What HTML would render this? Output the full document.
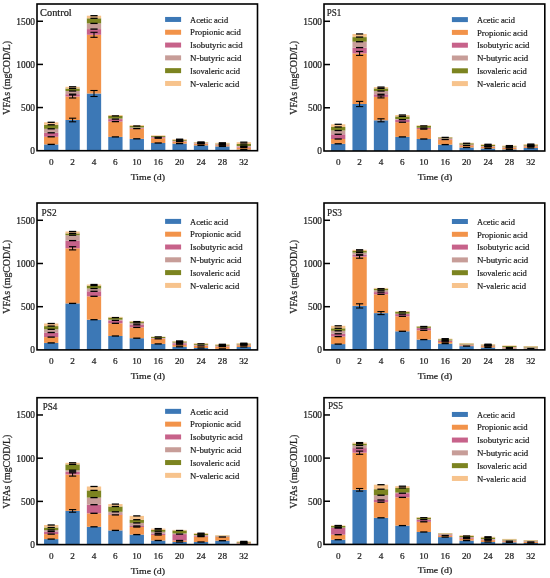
<!DOCTYPE html><html><head><meta charset="utf-8"><style>html,body{margin:0;padding:0;background:#fff;}svg{display:block;filter:blur(0.3px);}</style></head><body>
<svg width="550" height="578" viewBox="0 0 550 578">
<rect width="550" height="578" fill="#fff"/>
<g font-family='"Liberation Serif", serif'><rect x="44.05" y="144.4" width="14.3" height="6.3" fill="#3c78b6"/><rect x="44.05" y="136.8" width="14.3" height="7.6" fill="#f2934a"/><rect x="44.05" y="132.8" width="14.3" height="4" fill="#c7628a"/><rect x="44.05" y="128.8" width="14.3" height="4" fill="#c79d98"/><rect x="44.05" y="124.8" width="14.3" height="4" fill="#7c8420"/><rect x="44.05" y="122.3" width="14.3" height="2.5" fill="#f7c38c"/><rect x="65.45" y="120" width="14.3" height="30.7" fill="#3c78b6"/><rect x="65.45" y="96.5" width="14.3" height="23.5" fill="#f2934a"/><rect x="65.45" y="94.2" width="14.3" height="2.3" fill="#c7628a"/><rect x="65.45" y="91" width="14.3" height="3.2" fill="#c79d98"/><rect x="65.45" y="88.5" width="14.3" height="2.5" fill="#7c8420"/><rect x="65.45" y="86.8" width="14.3" height="1.7" fill="#f7c38c"/><rect x="86.85" y="93.5" width="14.3" height="57.2" fill="#3c78b6"/><rect x="86.85" y="34.8" width="14.3" height="58.7" fill="#f2934a"/><rect x="86.85" y="29.1" width="14.3" height="5.7" fill="#c7628a"/><rect x="86.85" y="23.4" width="14.3" height="5.7" fill="#c79d98"/><rect x="86.85" y="18.3" width="14.3" height="5.1" fill="#7c8420"/><rect x="86.85" y="15.7" width="14.3" height="2.6" fill="#f7c38c"/><rect x="108.25" y="136.9" width="14.3" height="13.8" fill="#3c78b6"/><rect x="108.25" y="121.6" width="14.3" height="15.3" fill="#f2934a"/><rect x="108.25" y="119.1" width="14.3" height="2.5" fill="#c7628a"/><rect x="108.25" y="118.6" width="14.3" height="0.5" fill="#c79d98"/><rect x="108.25" y="115.9" width="14.3" height="2.7" fill="#7c8420"/><rect x="108.25" y="115" width="14.3" height="0.9" fill="#f7c38c"/><rect x="129.65" y="138.8" width="14.3" height="11.9" fill="#3c78b6"/><rect x="129.65" y="128.6" width="14.3" height="10.2" fill="#f2934a"/><rect x="129.65" y="127.9" width="14.3" height="0.7" fill="#c7628a"/><rect x="129.65" y="127.5" width="14.3" height="0.4" fill="#c79d98"/><rect x="129.65" y="126" width="14.3" height="1.5" fill="#7c8420"/><rect x="129.65" y="125.2" width="14.3" height="0.8" fill="#f7c38c"/><rect x="151.05" y="143" width="14.3" height="7.7" fill="#3c78b6"/><rect x="151.05" y="138.2" width="14.3" height="4.8" fill="#f2934a"/><rect x="151.05" y="137.2" width="14.3" height="1" fill="#c7628a"/><rect x="151.05" y="136.9" width="14.3" height="0.3" fill="#c79d98"/><rect x="151.05" y="136" width="14.3" height="0.9" fill="#7c8420"/><rect x="151.05" y="135.4" width="14.3" height="0.6" fill="#f7c38c"/><rect x="172.45" y="143.6" width="14.3" height="7.1" fill="#3c78b6"/><rect x="172.45" y="141.6" width="14.3" height="2" fill="#f2934a"/><rect x="172.45" y="141.2" width="14.3" height="0.4" fill="#c7628a"/><rect x="172.45" y="140.8" width="14.3" height="0.4" fill="#c79d98"/><rect x="172.45" y="139.8" width="14.3" height="1" fill="#7c8420"/><rect x="172.45" y="139.2" width="14.3" height="0.6" fill="#f7c38c"/><rect x="193.85" y="145.4" width="14.3" height="5.3" fill="#3c78b6"/><rect x="193.85" y="143.8" width="14.3" height="1.6" fill="#f2934a"/><rect x="193.85" y="143.4" width="14.3" height="0.4" fill="#c7628a"/><rect x="193.85" y="143" width="14.3" height="0.4" fill="#c79d98"/><rect x="193.85" y="142.5" width="14.3" height="0.5" fill="#7c8420"/><rect x="193.85" y="142" width="14.3" height="0.5" fill="#f7c38c"/><rect x="215.25" y="146.4" width="14.3" height="4.3" fill="#3c78b6"/><rect x="215.25" y="145.2" width="14.3" height="1.2" fill="#f2934a"/><rect x="215.25" y="144.8" width="14.3" height="0.4" fill="#c7628a"/><rect x="215.25" y="144.2" width="14.3" height="0.6" fill="#c79d98"/><rect x="215.25" y="143.6" width="14.3" height="0.6" fill="#7c8420"/><rect x="215.25" y="142.8" width="14.3" height="0.8" fill="#f7c38c"/><rect x="236.65" y="149.6" width="14.3" height="1.1" fill="#3c78b6"/><rect x="236.65" y="147.6" width="14.3" height="2" fill="#f2934a"/><rect x="236.65" y="146.6" width="14.3" height="1" fill="#c7628a"/><rect x="236.65" y="146" width="14.3" height="0.6" fill="#c79d98"/><rect x="236.65" y="144" width="14.3" height="2" fill="#7c8420"/><rect x="236.65" y="142.2" width="14.3" height="1.8" fill="#f7c38c"/><rect x="47.6" y="143.75" width="7.2" height="1.3" fill="#000"/><rect x="47.6" y="136.15" width="7.2" height="1.3" fill="#000"/><rect x="47.6" y="132.15" width="7.2" height="1.3" fill="#000"/><rect x="47.6" y="128.15" width="7.2" height="1.3" fill="#000"/><rect x="47.6" y="124.15" width="7.2" height="1.3" fill="#000"/><rect x="47.6" y="121.65" width="7.2" height="1.3" fill="#000"/><rect x="69" y="117.65" width="7.2" height="1.1" fill="#000"/><rect x="69" y="121.25" width="7.2" height="1.1" fill="#000"/><rect x="72.1" y="118.2" width="1" height="3.6" fill="#000"/><rect x="69" y="94.45" width="7.2" height="1.1" fill="#000"/><rect x="69" y="97.45" width="7.2" height="1.1" fill="#000"/><rect x="72.1" y="95" width="1" height="3" fill="#000"/><rect x="69" y="93.55" width="7.2" height="1.3" fill="#000"/><rect x="69" y="90.35" width="7.2" height="1.3" fill="#000"/><rect x="69" y="87.85" width="7.2" height="1.3" fill="#000"/><rect x="69" y="86.15" width="7.2" height="1.3" fill="#000"/><rect x="90.4" y="89.95" width="7.2" height="1.1" fill="#000"/><rect x="90.4" y="95.95" width="7.2" height="1.1" fill="#000"/><rect x="93.5" y="90.5" width="1" height="6" fill="#000"/><rect x="90.4" y="31.75" width="7.2" height="1.1" fill="#000"/><rect x="90.4" y="36.75" width="7.2" height="1.1" fill="#000"/><rect x="93.5" y="32.3" width="1" height="5" fill="#000"/><rect x="90.4" y="28.45" width="7.2" height="1.3" fill="#000"/><rect x="90.4" y="22.75" width="7.2" height="1.3" fill="#000"/><rect x="90.4" y="17.65" width="7.2" height="1.3" fill="#000"/><rect x="90.4" y="15.05" width="7.2" height="1.3" fill="#000"/><rect x="111.8" y="136.25" width="7.2" height="1.3" fill="#000"/><rect x="111.8" y="120.95" width="7.2" height="1.3" fill="#000"/><rect x="111.8" y="118.45" width="7.2" height="1.3" fill="#000"/><rect x="111.8" y="115.25" width="7.2" height="1.3" fill="#000"/><rect x="133.2" y="138.15" width="7.2" height="1.3" fill="#000"/><rect x="133.2" y="127.95" width="7.2" height="1.3" fill="#000"/><rect x="133.2" y="125.35" width="7.2" height="1.3" fill="#000"/><rect x="154.6" y="142.35" width="7.2" height="1.3" fill="#000"/><rect x="154.6" y="137.55" width="7.2" height="1.3" fill="#000"/><rect x="154.6" y="136.55" width="7.2" height="1.3" fill="#000"/><rect x="176" y="142.95" width="7.2" height="1.3" fill="#000"/><rect x="176" y="140.95" width="7.2" height="1.3" fill="#000"/><rect x="176" y="140.55" width="7.2" height="1.3" fill="#000"/><rect x="176" y="140.15" width="7.2" height="1.3" fill="#000"/><rect x="176" y="139.15" width="7.2" height="1.3" fill="#000"/><rect x="176" y="138.55" width="7.2" height="1.3" fill="#000"/><rect x="197.4" y="144.75" width="7.2" height="1.3" fill="#000"/><rect x="197.4" y="143.15" width="7.2" height="1.3" fill="#000"/><rect x="197.4" y="142.75" width="7.2" height="1.3" fill="#000"/><rect x="197.4" y="142.35" width="7.2" height="1.3" fill="#000"/><rect x="197.4" y="141.85" width="7.2" height="1.3" fill="#000"/><rect x="197.4" y="141.35" width="7.2" height="1.3" fill="#000"/><rect x="218.8" y="145.75" width="7.2" height="1.3" fill="#000"/><rect x="218.8" y="144.55" width="7.2" height="1.3" fill="#000"/><rect x="218.8" y="144.15" width="7.2" height="1.3" fill="#000"/><rect x="218.8" y="143.55" width="7.2" height="1.3" fill="#000"/><rect x="218.8" y="142.95" width="7.2" height="1.3" fill="#000"/><rect x="218.8" y="142.15" width="7.2" height="1.3" fill="#000"/><rect x="240.2" y="148.95" width="7.2" height="1.3" fill="#000"/><rect x="240.2" y="146.95" width="7.2" height="1.3" fill="#000"/><rect x="240.2" y="145.95" width="7.2" height="1.3" fill="#000"/><rect x="240.2" y="145.35" width="7.2" height="1.3" fill="#000"/><rect x="240.2" y="143.35" width="7.2" height="1.3" fill="#000"/><rect x="240.2" y="141.55" width="7.2" height="1.3" fill="#000"/><rect x="37" y="4" width="220.5" height="146.7" fill="none" stroke="#000" stroke-width="1.6"/><rect x="37" y="106.8" width="6" height="1.5" fill="#000"/><text x="35" y="110.95" text-anchor="end" font-size="9.4" fill="#222" stroke="#222" stroke-width="0.22">500</text><rect x="37" y="63.66" width="6" height="1.5" fill="#000"/><text x="35" y="67.81" text-anchor="end" font-size="9.4" fill="#222" stroke="#222" stroke-width="0.22">1000</text><rect x="37" y="20.51" width="6" height="1.5" fill="#000"/><text x="35" y="24.66" text-anchor="end" font-size="9.4" fill="#222" stroke="#222" stroke-width="0.22">1500</text><text x="35" y="154.1" text-anchor="end" font-size="9.4" fill="#222" stroke="#222" stroke-width="0.22">0</text><text x="51.2" y="164.9" text-anchor="middle" font-size="9.2" fill="#222" stroke="#222" stroke-width="0.22">0</text><text x="72.6" y="164.9" text-anchor="middle" font-size="9.2" fill="#222" stroke="#222" stroke-width="0.22">2</text><text x="94" y="164.9" text-anchor="middle" font-size="9.2" fill="#222" stroke="#222" stroke-width="0.22">4</text><text x="115.4" y="164.9" text-anchor="middle" font-size="9.2" fill="#222" stroke="#222" stroke-width="0.22">6</text><text x="136.8" y="164.9" text-anchor="middle" font-size="9.2" fill="#222" stroke="#222" stroke-width="0.22">10</text><text x="158.2" y="164.9" text-anchor="middle" font-size="9.2" fill="#222" stroke="#222" stroke-width="0.22">16</text><text x="179.6" y="164.9" text-anchor="middle" font-size="9.2" fill="#222" stroke="#222" stroke-width="0.22">20</text><text x="201" y="164.9" text-anchor="middle" font-size="9.2" fill="#222" stroke="#222" stroke-width="0.22">24</text><text x="222.4" y="164.9" text-anchor="middle" font-size="9.2" fill="#222" stroke="#222" stroke-width="0.22">28</text><text x="243.8" y="164.9" text-anchor="middle" font-size="9.2" fill="#222" stroke="#222" stroke-width="0.22">32</text><text x="147.85" y="179.7" text-anchor="middle" font-size="9.2" textLength="34.4" lengthAdjust="spacingAndGlyphs" fill="#222" stroke="#222" stroke-width="0.22">Time (d)</text><text transform="translate(10.1,114.7) rotate(-90)" x="0" y="0" font-size="9.6" textLength="73.7" lengthAdjust="spacingAndGlyphs" fill="#222" stroke="#222" stroke-width="0.22">VFAs (mgCOD/L)</text><text x="40.1" y="15.6" font-size="9.5" textLength="31.6" lengthAdjust="spacingAndGlyphs" fill="#222" stroke="#222" stroke-width="0.22">Control</text><rect x="165.1" y="16.95" width="16" height="5" fill="#3c78b6"/><text x="190.1" y="22.65" font-size="9" textLength="38" lengthAdjust="spacingAndGlyphs" fill="#222" stroke="#222" stroke-width="0.22">Acetic acid</text><rect x="165.1" y="29.75" width="16" height="5" fill="#f2934a"/><text x="190.1" y="35.45" font-size="9" textLength="50.7" lengthAdjust="spacingAndGlyphs" fill="#222" stroke="#222" stroke-width="0.22">Propionic acid</text><rect x="165.1" y="42.55" width="16" height="5" fill="#c7628a"/><text x="190.1" y="48.25" font-size="9" textLength="52.6" lengthAdjust="spacingAndGlyphs" fill="#222" stroke="#222" stroke-width="0.22">Isobutyric acid</text><rect x="165.1" y="55.35" width="16" height="5" fill="#c79d98"/><text x="190.1" y="61.05" font-size="9" textLength="51.4" lengthAdjust="spacingAndGlyphs" fill="#222" stroke="#222" stroke-width="0.22">N-butyric acid</text><rect x="165.1" y="68.15" width="16" height="5" fill="#7c8420"/><text x="190.1" y="73.85" font-size="9" textLength="50" lengthAdjust="spacingAndGlyphs" fill="#222" stroke="#222" stroke-width="0.22">Isovaleric acid</text><rect x="165.1" y="80.95" width="16" height="5" fill="#f7c38c"/><text x="190.1" y="86.65" font-size="9" textLength="49.2" lengthAdjust="spacingAndGlyphs" fill="#222" stroke="#222" stroke-width="0.22">N-valeric acid</text></g>
<g font-family='"Liberation Serif", serif'><rect x="331.05" y="143.8" width="14.3" height="7.2" fill="#3c78b6"/><rect x="331.05" y="139" width="14.3" height="4.8" fill="#f2934a"/><rect x="331.05" y="134.3" width="14.3" height="4.7" fill="#c7628a"/><rect x="331.05" y="130.5" width="14.3" height="3.8" fill="#c79d98"/><rect x="331.05" y="127" width="14.3" height="3.5" fill="#7c8420"/><rect x="331.05" y="124.3" width="14.3" height="2.7" fill="#f7c38c"/><rect x="352.45" y="104" width="14.3" height="47" fill="#3c78b6"/><rect x="352.45" y="53.4" width="14.3" height="50.6" fill="#f2934a"/><rect x="352.45" y="47.6" width="14.3" height="5.8" fill="#c7628a"/><rect x="352.45" y="41.7" width="14.3" height="5.9" fill="#c79d98"/><rect x="352.45" y="37.1" width="14.3" height="4.6" fill="#7c8420"/><rect x="352.45" y="33.95" width="14.3" height="3.15" fill="#f7c38c"/><rect x="373.85" y="120.3" width="14.3" height="30.7" fill="#3c78b6"/><rect x="373.85" y="96.9" width="14.3" height="23.4" fill="#f2934a"/><rect x="373.85" y="94.3" width="14.3" height="2.6" fill="#c7628a"/><rect x="373.85" y="91" width="14.3" height="3.3" fill="#c79d98"/><rect x="373.85" y="88.4" width="14.3" height="2.6" fill="#7c8420"/><rect x="373.85" y="87.1" width="14.3" height="1.3" fill="#f7c38c"/><rect x="395.25" y="136.9" width="14.3" height="14.1" fill="#3c78b6"/><rect x="395.25" y="122.2" width="14.3" height="14.7" fill="#f2934a"/><rect x="395.25" y="119.6" width="14.3" height="2.6" fill="#c7628a"/><rect x="395.25" y="119" width="14.3" height="0.6" fill="#c79d98"/><rect x="395.25" y="116.4" width="14.3" height="2.6" fill="#7c8420"/><rect x="395.25" y="115" width="14.3" height="1.4" fill="#f7c38c"/><rect x="416.65" y="139" width="14.3" height="12" fill="#3c78b6"/><rect x="416.65" y="129.1" width="14.3" height="9.9" fill="#f2934a"/><rect x="416.65" y="128" width="14.3" height="1.1" fill="#c7628a"/><rect x="416.65" y="127.8" width="14.3" height="0.2" fill="#c79d98"/><rect x="416.65" y="125.9" width="14.3" height="1.9" fill="#7c8420"/><rect x="416.65" y="125.3" width="14.3" height="0.6" fill="#f7c38c"/><rect x="438.05" y="144.6" width="14.3" height="6.4" fill="#3c78b6"/><rect x="438.05" y="139.5" width="14.3" height="5.1" fill="#f2934a"/><rect x="438.05" y="138.6" width="14.3" height="0.9" fill="#c7628a"/><rect x="438.05" y="138.4" width="14.3" height="0.2" fill="#c79d98"/><rect x="438.05" y="137.4" width="14.3" height="1" fill="#7c8420"/><rect x="438.05" y="137" width="14.3" height="0.4" fill="#f7c38c"/><rect x="459.45" y="147.5" width="14.3" height="3.5" fill="#3c78b6"/><rect x="459.45" y="145.4" width="14.3" height="2.1" fill="#f2934a"/><rect x="459.45" y="144.8" width="14.3" height="0.6" fill="#c7628a"/><rect x="459.45" y="144.6" width="14.3" height="0.2" fill="#c79d98"/><rect x="459.45" y="143.3" width="14.3" height="1.3" fill="#7c8420"/><rect x="459.45" y="142.8" width="14.3" height="0.5" fill="#f7c38c"/><rect x="480.85" y="148.5" width="14.3" height="2.5" fill="#3c78b6"/><rect x="480.85" y="146.9" width="14.3" height="1.6" fill="#f2934a"/><rect x="480.85" y="146.4" width="14.3" height="0.5" fill="#c7628a"/><rect x="480.85" y="146" width="14.3" height="0.4" fill="#c79d98"/><rect x="480.85" y="145" width="14.3" height="1" fill="#7c8420"/><rect x="480.85" y="144.3" width="14.3" height="0.7" fill="#f7c38c"/><rect x="502.25" y="149.4" width="14.3" height="1.6" fill="#3c78b6"/><rect x="502.25" y="147.9" width="14.3" height="1.5" fill="#f2934a"/><rect x="502.25" y="147.5" width="14.3" height="0.4" fill="#c7628a"/><rect x="502.25" y="147.1" width="14.3" height="0.4" fill="#c79d98"/><rect x="502.25" y="146.3" width="14.3" height="0.8" fill="#7c8420"/><rect x="502.25" y="145.6" width="14.3" height="0.7" fill="#f7c38c"/><rect x="523.65" y="147.9" width="14.3" height="3.1" fill="#3c78b6"/><rect x="523.65" y="146.4" width="14.3" height="1.5" fill="#f2934a"/><rect x="523.65" y="146" width="14.3" height="0.4" fill="#c7628a"/><rect x="523.65" y="145.6" width="14.3" height="0.4" fill="#c79d98"/><rect x="523.65" y="144.8" width="14.3" height="0.8" fill="#7c8420"/><rect x="523.65" y="144.1" width="14.3" height="0.7" fill="#f7c38c"/><rect x="334.6" y="143.15" width="7.2" height="1.3" fill="#000"/><rect x="334.6" y="138.35" width="7.2" height="1.3" fill="#000"/><rect x="334.6" y="133.65" width="7.2" height="1.3" fill="#000"/><rect x="334.6" y="129.85" width="7.2" height="1.3" fill="#000"/><rect x="334.6" y="126.35" width="7.2" height="1.3" fill="#000"/><rect x="334.6" y="123.65" width="7.2" height="1.3" fill="#000"/><rect x="356" y="100.85" width="7.2" height="1.1" fill="#000"/><rect x="356" y="106.05" width="7.2" height="1.1" fill="#000"/><rect x="359.1" y="101.4" width="1" height="5.2" fill="#000"/><rect x="356" y="50.85" width="7.2" height="1.1" fill="#000"/><rect x="356" y="54.85" width="7.2" height="1.1" fill="#000"/><rect x="359.1" y="51.4" width="1" height="4" fill="#000"/><rect x="356" y="46.95" width="7.2" height="1.3" fill="#000"/><rect x="356" y="41.05" width="7.2" height="1.3" fill="#000"/><rect x="356" y="36.45" width="7.2" height="1.3" fill="#000"/><rect x="356" y="33.3" width="7.2" height="1.3" fill="#000"/><rect x="377.4" y="118.25" width="7.2" height="1.1" fill="#000"/><rect x="377.4" y="121.25" width="7.2" height="1.1" fill="#000"/><rect x="380.5" y="118.8" width="1" height="3" fill="#000"/><rect x="377.4" y="95.35" width="7.2" height="1.1" fill="#000"/><rect x="377.4" y="97.35" width="7.2" height="1.1" fill="#000"/><rect x="380.5" y="95.9" width="1" height="2" fill="#000"/><rect x="377.4" y="93.65" width="7.2" height="1.3" fill="#000"/><rect x="377.4" y="90.35" width="7.2" height="1.3" fill="#000"/><rect x="377.4" y="87.75" width="7.2" height="1.3" fill="#000"/><rect x="377.4" y="86.45" width="7.2" height="1.3" fill="#000"/><rect x="398.8" y="136.25" width="7.2" height="1.3" fill="#000"/><rect x="398.8" y="121.55" width="7.2" height="1.3" fill="#000"/><rect x="398.8" y="118.95" width="7.2" height="1.3" fill="#000"/><rect x="398.8" y="115.75" width="7.2" height="1.3" fill="#000"/><rect x="398.8" y="114.35" width="7.2" height="1.3" fill="#000"/><rect x="420.2" y="138.35" width="7.2" height="1.3" fill="#000"/><rect x="420.2" y="128.45" width="7.2" height="1.3" fill="#000"/><rect x="420.2" y="127.35" width="7.2" height="1.3" fill="#000"/><rect x="420.2" y="125.25" width="7.2" height="1.3" fill="#000"/><rect x="441.6" y="143.95" width="7.2" height="1.3" fill="#000"/><rect x="441.6" y="138.85" width="7.2" height="1.3" fill="#000"/><rect x="441.6" y="136.75" width="7.2" height="1.3" fill="#000"/><rect x="463" y="146.85" width="7.2" height="1.3" fill="#000"/><rect x="463" y="144.75" width="7.2" height="1.3" fill="#000"/><rect x="463" y="142.65" width="7.2" height="1.3" fill="#000"/><rect x="484.4" y="147.85" width="7.2" height="1.3" fill="#000"/><rect x="484.4" y="146.25" width="7.2" height="1.3" fill="#000"/><rect x="484.4" y="145.75" width="7.2" height="1.3" fill="#000"/><rect x="484.4" y="145.35" width="7.2" height="1.3" fill="#000"/><rect x="484.4" y="144.35" width="7.2" height="1.3" fill="#000"/><rect x="484.4" y="143.65" width="7.2" height="1.3" fill="#000"/><rect x="505.8" y="148.75" width="7.2" height="1.3" fill="#000"/><rect x="505.8" y="147.25" width="7.2" height="1.3" fill="#000"/><rect x="505.8" y="146.85" width="7.2" height="1.3" fill="#000"/><rect x="505.8" y="146.45" width="7.2" height="1.3" fill="#000"/><rect x="505.8" y="145.65" width="7.2" height="1.3" fill="#000"/><rect x="505.8" y="144.95" width="7.2" height="1.3" fill="#000"/><rect x="527.2" y="147.25" width="7.2" height="1.3" fill="#000"/><rect x="527.2" y="145.75" width="7.2" height="1.3" fill="#000"/><rect x="527.2" y="145.35" width="7.2" height="1.3" fill="#000"/><rect x="527.2" y="144.95" width="7.2" height="1.3" fill="#000"/><rect x="527.2" y="144.15" width="7.2" height="1.3" fill="#000"/><rect x="527.2" y="143.45" width="7.2" height="1.3" fill="#000"/><rect x="324" y="4" width="220.8" height="147" fill="none" stroke="#000" stroke-width="1.6"/><rect x="324" y="107.01" width="6" height="1.5" fill="#000"/><text x="322" y="111.16" text-anchor="end" font-size="9.4" fill="#222" stroke="#222" stroke-width="0.22">500</text><rect x="324" y="63.78" width="6" height="1.5" fill="#000"/><text x="322" y="67.93" text-anchor="end" font-size="9.4" fill="#222" stroke="#222" stroke-width="0.22">1000</text><rect x="324" y="20.54" width="6" height="1.5" fill="#000"/><text x="322" y="24.69" text-anchor="end" font-size="9.4" fill="#222" stroke="#222" stroke-width="0.22">1500</text><text x="322" y="154.4" text-anchor="end" font-size="9.4" fill="#222" stroke="#222" stroke-width="0.22">0</text><text x="338.2" y="165.2" text-anchor="middle" font-size="9.2" fill="#222" stroke="#222" stroke-width="0.22">0</text><text x="359.6" y="165.2" text-anchor="middle" font-size="9.2" fill="#222" stroke="#222" stroke-width="0.22">2</text><text x="381" y="165.2" text-anchor="middle" font-size="9.2" fill="#222" stroke="#222" stroke-width="0.22">4</text><text x="402.4" y="165.2" text-anchor="middle" font-size="9.2" fill="#222" stroke="#222" stroke-width="0.22">6</text><text x="423.8" y="165.2" text-anchor="middle" font-size="9.2" fill="#222" stroke="#222" stroke-width="0.22">10</text><text x="445.2" y="165.2" text-anchor="middle" font-size="9.2" fill="#222" stroke="#222" stroke-width="0.22">16</text><text x="466.6" y="165.2" text-anchor="middle" font-size="9.2" fill="#222" stroke="#222" stroke-width="0.22">20</text><text x="488" y="165.2" text-anchor="middle" font-size="9.2" fill="#222" stroke="#222" stroke-width="0.22">24</text><text x="509.4" y="165.2" text-anchor="middle" font-size="9.2" fill="#222" stroke="#222" stroke-width="0.22">28</text><text x="530.8" y="165.2" text-anchor="middle" font-size="9.2" fill="#222" stroke="#222" stroke-width="0.22">32</text><text x="435" y="180" text-anchor="middle" font-size="9.2" textLength="34.4" lengthAdjust="spacingAndGlyphs" fill="#222" stroke="#222" stroke-width="0.22">Time (d)</text><text transform="translate(296.7,114.7) rotate(-90)" x="0" y="0" font-size="9.6" textLength="73.7" lengthAdjust="spacingAndGlyphs" fill="#222" stroke="#222" stroke-width="0.22">VFAs (mgCOD/L)</text><text x="326.8" y="16.1" font-size="9.5" textLength="14.5" lengthAdjust="spacingAndGlyphs" fill="#222" stroke="#222" stroke-width="0.22">PS1</text><rect x="451.9" y="17.1" width="16" height="5" fill="#3c78b6"/><text x="476.9" y="22.8" font-size="9" textLength="38" lengthAdjust="spacingAndGlyphs" fill="#222" stroke="#222" stroke-width="0.22">Acetic acid</text><rect x="451.9" y="29.9" width="16" height="5" fill="#f2934a"/><text x="476.9" y="35.6" font-size="9" textLength="50.7" lengthAdjust="spacingAndGlyphs" fill="#222" stroke="#222" stroke-width="0.22">Propionic acid</text><rect x="451.9" y="42.7" width="16" height="5" fill="#c7628a"/><text x="476.9" y="48.4" font-size="9" textLength="52.6" lengthAdjust="spacingAndGlyphs" fill="#222" stroke="#222" stroke-width="0.22">Isobutyric acid</text><rect x="451.9" y="55.5" width="16" height="5" fill="#c79d98"/><text x="476.9" y="61.2" font-size="9" textLength="51.4" lengthAdjust="spacingAndGlyphs" fill="#222" stroke="#222" stroke-width="0.22">N-butyric acid</text><rect x="451.9" y="68.3" width="16" height="5" fill="#7c8420"/><text x="476.9" y="74" font-size="9" textLength="50" lengthAdjust="spacingAndGlyphs" fill="#222" stroke="#222" stroke-width="0.22">Isovaleric acid</text><rect x="451.9" y="81.1" width="16" height="5" fill="#f7c38c"/><text x="476.9" y="86.8" font-size="9" textLength="49.2" lengthAdjust="spacingAndGlyphs" fill="#222" stroke="#222" stroke-width="0.22">N-valeric acid</text></g>
<g font-family='"Liberation Serif", serif'><rect x="44.05" y="342.9" width="14.3" height="7" fill="#3c78b6"/><rect x="44.05" y="337.1" width="14.3" height="5.8" fill="#f2934a"/><rect x="44.05" y="332.5" width="14.3" height="4.6" fill="#c7628a"/><rect x="44.05" y="329.3" width="14.3" height="3.2" fill="#c79d98"/><rect x="44.05" y="326.1" width="14.3" height="3.2" fill="#7c8420"/><rect x="44.05" y="323.5" width="14.3" height="2.6" fill="#f7c38c"/><rect x="65.45" y="303.4" width="14.3" height="46.5" fill="#3c78b6"/><rect x="65.45" y="248.3" width="14.3" height="55.1" fill="#f2934a"/><rect x="65.45" y="240.6" width="14.3" height="7.7" fill="#c7628a"/><rect x="65.45" y="235.2" width="14.3" height="5.4" fill="#c79d98"/><rect x="65.45" y="233.4" width="14.3" height="1.8" fill="#7c8420"/><rect x="65.45" y="231.5" width="14.3" height="1.9" fill="#f7c38c"/><rect x="86.85" y="319.7" width="14.3" height="30.2" fill="#3c78b6"/><rect x="86.85" y="296.3" width="14.3" height="23.4" fill="#f2934a"/><rect x="86.85" y="291.3" width="14.3" height="5" fill="#c7628a"/><rect x="86.85" y="288.5" width="14.3" height="2.8" fill="#c79d98"/><rect x="86.85" y="285.6" width="14.3" height="2.9" fill="#7c8420"/><rect x="86.85" y="284.5" width="14.3" height="1.1" fill="#f7c38c"/><rect x="108.25" y="336" width="14.3" height="13.9" fill="#3c78b6"/><rect x="108.25" y="323.3" width="14.3" height="12.7" fill="#f2934a"/><rect x="108.25" y="320.4" width="14.3" height="2.9" fill="#c7628a"/><rect x="108.25" y="319.7" width="14.3" height="0.7" fill="#c79d98"/><rect x="108.25" y="317.6" width="14.3" height="2.1" fill="#7c8420"/><rect x="108.25" y="316.9" width="14.3" height="0.7" fill="#f7c38c"/><rect x="129.65" y="338.2" width="14.3" height="11.7" fill="#3c78b6"/><rect x="129.65" y="327.4" width="14.3" height="10.8" fill="#f2934a"/><rect x="129.65" y="324.8" width="14.3" height="2.6" fill="#c7628a"/><rect x="129.65" y="322.9" width="14.3" height="1.9" fill="#c79d98"/><rect x="129.65" y="321.6" width="14.3" height="1.3" fill="#7c8420"/><rect x="129.65" y="321" width="14.3" height="0.6" fill="#f7c38c"/><rect x="151.05" y="343.9" width="14.3" height="6" fill="#3c78b6"/><rect x="151.05" y="338.8" width="14.3" height="5.1" fill="#f2934a"/><rect x="151.05" y="338.4" width="14.3" height="0.4" fill="#c7628a"/><rect x="151.05" y="338" width="14.3" height="0.4" fill="#c79d98"/><rect x="151.05" y="336.9" width="14.3" height="1.1" fill="#7c8420"/><rect x="151.05" y="336.7" width="14.3" height="0.2" fill="#f7c38c"/><rect x="172.45" y="346.8" width="14.3" height="3.1" fill="#3c78b6"/><rect x="172.45" y="344.8" width="14.3" height="2" fill="#f2934a"/><rect x="172.45" y="343.3" width="14.3" height="1.5" fill="#c7628a"/><rect x="172.45" y="342.5" width="14.3" height="0.8" fill="#c79d98"/><rect x="172.45" y="341.5" width="14.3" height="1" fill="#7c8420"/><rect x="172.45" y="341" width="14.3" height="0.5" fill="#f7c38c"/><rect x="193.85" y="348" width="14.3" height="1.9" fill="#3c78b6"/><rect x="193.85" y="345.9" width="14.3" height="2.1" fill="#f2934a"/><rect x="193.85" y="345.4" width="14.3" height="0.5" fill="#c7628a"/><rect x="193.85" y="344.8" width="14.3" height="0.6" fill="#c79d98"/><rect x="193.85" y="343.8" width="14.3" height="1" fill="#7c8420"/><rect x="193.85" y="343.2" width="14.3" height="0.6" fill="#f7c38c"/><rect x="215.25" y="348.9" width="14.3" height="1" fill="#3c78b6"/><rect x="215.25" y="346.6" width="14.3" height="2.3" fill="#f2934a"/><rect x="215.25" y="346.1" width="14.3" height="0.5" fill="#c7628a"/><rect x="215.25" y="345.6" width="14.3" height="0.5" fill="#c79d98"/><rect x="215.25" y="344.8" width="14.3" height="0.8" fill="#7c8420"/><rect x="215.25" y="344.3" width="14.3" height="0.5" fill="#f7c38c"/><rect x="236.65" y="347" width="14.3" height="2.9" fill="#3c78b6"/><rect x="236.65" y="345.2" width="14.3" height="1.8" fill="#f2934a"/><rect x="236.65" y="344.8" width="14.3" height="0.4" fill="#c7628a"/><rect x="236.65" y="344.4" width="14.3" height="0.4" fill="#c79d98"/><rect x="236.65" y="343.7" width="14.3" height="0.7" fill="#7c8420"/><rect x="236.65" y="343.2" width="14.3" height="0.5" fill="#f7c38c"/><rect x="47.6" y="342.25" width="7.2" height="1.3" fill="#000"/><rect x="47.6" y="336.45" width="7.2" height="1.3" fill="#000"/><rect x="47.6" y="331.85" width="7.2" height="1.3" fill="#000"/><rect x="47.6" y="328.65" width="7.2" height="1.3" fill="#000"/><rect x="47.6" y="325.45" width="7.2" height="1.3" fill="#000"/><rect x="47.6" y="322.85" width="7.2" height="1.3" fill="#000"/><rect x="69" y="302.75" width="7.2" height="1.3" fill="#000"/><rect x="69" y="246.15" width="7.2" height="1.1" fill="#000"/><rect x="69" y="249.35" width="7.2" height="1.1" fill="#000"/><rect x="72.1" y="246.7" width="1" height="3.2" fill="#000"/><rect x="69" y="239.95" width="7.2" height="1.3" fill="#000"/><rect x="69" y="234.55" width="7.2" height="1.3" fill="#000"/><rect x="69" y="232.75" width="7.2" height="1.3" fill="#000"/><rect x="69" y="230.85" width="7.2" height="1.3" fill="#000"/><rect x="90.4" y="319.05" width="7.2" height="1.3" fill="#000"/><rect x="90.4" y="295.65" width="7.2" height="1.3" fill="#000"/><rect x="90.4" y="290.65" width="7.2" height="1.3" fill="#000"/><rect x="90.4" y="287.85" width="7.2" height="1.3" fill="#000"/><rect x="90.4" y="284.95" width="7.2" height="1.3" fill="#000"/><rect x="90.4" y="283.85" width="7.2" height="1.3" fill="#000"/><rect x="111.8" y="335.35" width="7.2" height="1.3" fill="#000"/><rect x="111.8" y="322.65" width="7.2" height="1.3" fill="#000"/><rect x="111.8" y="319.75" width="7.2" height="1.3" fill="#000"/><rect x="111.8" y="316.95" width="7.2" height="1.3" fill="#000"/><rect x="133.2" y="337.55" width="7.2" height="1.3" fill="#000"/><rect x="133.2" y="326.75" width="7.2" height="1.3" fill="#000"/><rect x="133.2" y="324.15" width="7.2" height="1.3" fill="#000"/><rect x="133.2" y="322.25" width="7.2" height="1.3" fill="#000"/><rect x="133.2" y="320.95" width="7.2" height="1.3" fill="#000"/><rect x="154.6" y="343.25" width="7.2" height="1.3" fill="#000"/><rect x="154.6" y="338.15" width="7.2" height="1.3" fill="#000"/><rect x="154.6" y="336.25" width="7.2" height="1.3" fill="#000"/><rect x="176" y="346.15" width="7.2" height="1.3" fill="#000"/><rect x="176" y="344.15" width="7.2" height="1.3" fill="#000"/><rect x="176" y="342.65" width="7.2" height="1.3" fill="#000"/><rect x="176" y="341.85" width="7.2" height="1.3" fill="#000"/><rect x="176" y="340.85" width="7.2" height="1.3" fill="#000"/><rect x="176" y="340.35" width="7.2" height="1.3" fill="#000"/><rect x="197.4" y="347.35" width="7.2" height="1.3" fill="#000"/><rect x="197.4" y="345.25" width="7.2" height="1.3" fill="#000"/><rect x="197.4" y="343.15" width="7.2" height="1.3" fill="#000"/><rect x="218.8" y="348.25" width="7.2" height="1.3" fill="#000"/><rect x="218.8" y="345.95" width="7.2" height="1.3" fill="#000"/><rect x="218.8" y="345.45" width="7.2" height="1.3" fill="#000"/><rect x="218.8" y="344.95" width="7.2" height="1.3" fill="#000"/><rect x="218.8" y="344.15" width="7.2" height="1.3" fill="#000"/><rect x="218.8" y="343.65" width="7.2" height="1.3" fill="#000"/><rect x="240.2" y="346.35" width="7.2" height="1.3" fill="#000"/><rect x="240.2" y="344.55" width="7.2" height="1.3" fill="#000"/><rect x="240.2" y="344.15" width="7.2" height="1.3" fill="#000"/><rect x="240.2" y="343.75" width="7.2" height="1.3" fill="#000"/><rect x="240.2" y="343.05" width="7.2" height="1.3" fill="#000"/><rect x="240.2" y="342.55" width="7.2" height="1.3" fill="#000"/><rect x="37" y="203" width="220.5" height="146.9" fill="none" stroke="#000" stroke-width="1.6"/><rect x="37" y="305.94" width="6" height="1.5" fill="#000"/><text x="35" y="310.09" text-anchor="end" font-size="9.4" fill="#222" stroke="#222" stroke-width="0.22">500</text><rect x="37" y="262.74" width="6" height="1.5" fill="#000"/><text x="35" y="266.89" text-anchor="end" font-size="9.4" fill="#222" stroke="#222" stroke-width="0.22">1000</text><rect x="37" y="219.53" width="6" height="1.5" fill="#000"/><text x="35" y="223.68" text-anchor="end" font-size="9.4" fill="#222" stroke="#222" stroke-width="0.22">1500</text><text x="35" y="353.3" text-anchor="end" font-size="9.4" fill="#222" stroke="#222" stroke-width="0.22">0</text><text x="51.2" y="364.1" text-anchor="middle" font-size="9.2" fill="#222" stroke="#222" stroke-width="0.22">0</text><text x="72.6" y="364.1" text-anchor="middle" font-size="9.2" fill="#222" stroke="#222" stroke-width="0.22">2</text><text x="94" y="364.1" text-anchor="middle" font-size="9.2" fill="#222" stroke="#222" stroke-width="0.22">4</text><text x="115.4" y="364.1" text-anchor="middle" font-size="9.2" fill="#222" stroke="#222" stroke-width="0.22">6</text><text x="136.8" y="364.1" text-anchor="middle" font-size="9.2" fill="#222" stroke="#222" stroke-width="0.22">10</text><text x="158.2" y="364.1" text-anchor="middle" font-size="9.2" fill="#222" stroke="#222" stroke-width="0.22">16</text><text x="179.6" y="364.1" text-anchor="middle" font-size="9.2" fill="#222" stroke="#222" stroke-width="0.22">20</text><text x="201" y="364.1" text-anchor="middle" font-size="9.2" fill="#222" stroke="#222" stroke-width="0.22">24</text><text x="222.4" y="364.1" text-anchor="middle" font-size="9.2" fill="#222" stroke="#222" stroke-width="0.22">28</text><text x="243.8" y="364.1" text-anchor="middle" font-size="9.2" fill="#222" stroke="#222" stroke-width="0.22">32</text><text x="147.85" y="378.9" text-anchor="middle" font-size="9.2" textLength="34.4" lengthAdjust="spacingAndGlyphs" fill="#222" stroke="#222" stroke-width="0.22">Time (d)</text><text transform="translate(10.1,313.7) rotate(-90)" x="0" y="0" font-size="9.6" textLength="73.7" lengthAdjust="spacingAndGlyphs" fill="#222" stroke="#222" stroke-width="0.22">VFAs (mgCOD/L)</text><text x="41.6" y="216.3" font-size="9.5" textLength="15" lengthAdjust="spacingAndGlyphs" fill="#222" stroke="#222" stroke-width="0.22">PS2</text><rect x="165.1" y="218.9" width="16" height="5" fill="#3c78b6"/><text x="190.1" y="224.6" font-size="9" textLength="38" lengthAdjust="spacingAndGlyphs" fill="#222" stroke="#222" stroke-width="0.22">Acetic acid</text><rect x="165.1" y="231.7" width="16" height="5" fill="#f2934a"/><text x="190.1" y="237.4" font-size="9" textLength="50.7" lengthAdjust="spacingAndGlyphs" fill="#222" stroke="#222" stroke-width="0.22">Propionic acid</text><rect x="165.1" y="244.5" width="16" height="5" fill="#c7628a"/><text x="190.1" y="250.2" font-size="9" textLength="52.6" lengthAdjust="spacingAndGlyphs" fill="#222" stroke="#222" stroke-width="0.22">Isobutyric acid</text><rect x="165.1" y="257.3" width="16" height="5" fill="#c79d98"/><text x="190.1" y="263" font-size="9" textLength="51.4" lengthAdjust="spacingAndGlyphs" fill="#222" stroke="#222" stroke-width="0.22">N-butyric acid</text><rect x="165.1" y="270.1" width="16" height="5" fill="#7c8420"/><text x="190.1" y="275.8" font-size="9" textLength="50" lengthAdjust="spacingAndGlyphs" fill="#222" stroke="#222" stroke-width="0.22">Isovaleric acid</text><rect x="165.1" y="282.9" width="16" height="5" fill="#f7c38c"/><text x="190.1" y="288.6" font-size="9" textLength="49.2" lengthAdjust="spacingAndGlyphs" fill="#222" stroke="#222" stroke-width="0.22">N-valeric acid</text></g>
<g font-family='"Liberation Serif", serif'><rect x="331.05" y="344.1" width="14.3" height="5.8" fill="#3c78b6"/><rect x="331.05" y="336.6" width="14.3" height="7.5" fill="#f2934a"/><rect x="331.05" y="333.8" width="14.3" height="2.8" fill="#c7628a"/><rect x="331.05" y="330.8" width="14.3" height="3" fill="#c79d98"/><rect x="331.05" y="328.3" width="14.3" height="2.5" fill="#7c8420"/><rect x="331.05" y="325.8" width="14.3" height="2.5" fill="#f7c38c"/><rect x="352.45" y="305.9" width="14.3" height="44" fill="#3c78b6"/><rect x="352.45" y="256.7" width="14.3" height="49.2" fill="#f2934a"/><rect x="352.45" y="254.8" width="14.3" height="1.9" fill="#c7628a"/><rect x="352.45" y="252.6" width="14.3" height="2.2" fill="#c79d98"/><rect x="352.45" y="251" width="14.3" height="1.6" fill="#7c8420"/><rect x="352.45" y="249.8" width="14.3" height="1.2" fill="#f7c38c"/><rect x="373.85" y="313.1" width="14.3" height="36.8" fill="#3c78b6"/><rect x="373.85" y="294.3" width="14.3" height="18.8" fill="#f2934a"/><rect x="373.85" y="292.1" width="14.3" height="2.2" fill="#c7628a"/><rect x="373.85" y="290.2" width="14.3" height="1.9" fill="#c79d98"/><rect x="373.85" y="288.7" width="14.3" height="1.5" fill="#7c8420"/><rect x="373.85" y="287.9" width="14.3" height="0.8" fill="#f7c38c"/><rect x="395.25" y="331.3" width="14.3" height="18.6" fill="#3c78b6"/><rect x="395.25" y="316.3" width="14.3" height="15" fill="#f2934a"/><rect x="395.25" y="314.1" width="14.3" height="2.2" fill="#c7628a"/><rect x="395.25" y="313.7" width="14.3" height="0.4" fill="#c79d98"/><rect x="395.25" y="311.8" width="14.3" height="1.9" fill="#7c8420"/><rect x="395.25" y="311.2" width="14.3" height="0.6" fill="#f7c38c"/><rect x="416.65" y="339.6" width="14.3" height="10.3" fill="#3c78b6"/><rect x="416.65" y="330.3" width="14.3" height="9.3" fill="#f2934a"/><rect x="416.65" y="328.1" width="14.3" height="2.2" fill="#c7628a"/><rect x="416.65" y="327.8" width="14.3" height="0.3" fill="#c79d98"/><rect x="416.65" y="326.5" width="14.3" height="1.3" fill="#7c8420"/><rect x="416.65" y="326.1" width="14.3" height="0.4" fill="#f7c38c"/><rect x="438.05" y="343.6" width="14.3" height="6.3" fill="#3c78b6"/><rect x="438.05" y="342" width="14.3" height="1.6" fill="#f2934a"/><rect x="438.05" y="341" width="14.3" height="1" fill="#c7628a"/><rect x="438.05" y="340.5" width="14.3" height="0.5" fill="#c79d98"/><rect x="438.05" y="339.3" width="14.3" height="1.2" fill="#7c8420"/><rect x="438.05" y="338.7" width="14.3" height="0.6" fill="#f7c38c"/><rect x="459.45" y="346.1" width="14.3" height="3.8" fill="#3c78b6"/><rect x="459.45" y="345.3" width="14.3" height="0.8" fill="#f2934a"/><rect x="459.45" y="344.8" width="14.3" height="0.5" fill="#c7628a"/><rect x="459.45" y="344.4" width="14.3" height="0.4" fill="#c79d98"/><rect x="459.45" y="343.6" width="14.3" height="0.8" fill="#7c8420"/><rect x="459.45" y="343.1" width="14.3" height="0.5" fill="#f7c38c"/><rect x="480.85" y="347.5" width="14.3" height="2.4" fill="#3c78b6"/><rect x="480.85" y="346.1" width="14.3" height="1.4" fill="#f2934a"/><rect x="480.85" y="345.7" width="14.3" height="0.4" fill="#c7628a"/><rect x="480.85" y="345.3" width="14.3" height="0.4" fill="#c79d98"/><rect x="480.85" y="344.7" width="14.3" height="0.6" fill="#7c8420"/><rect x="480.85" y="344.2" width="14.3" height="0.5" fill="#f7c38c"/><rect x="502.25" y="348.5" width="14.3" height="1.4" fill="#3c78b6"/><rect x="502.25" y="347.5" width="14.3" height="1" fill="#f2934a"/><rect x="502.25" y="347.2" width="14.3" height="0.3" fill="#c7628a"/><rect x="502.25" y="346.9" width="14.3" height="0.3" fill="#c79d98"/><rect x="502.25" y="346" width="14.3" height="0.9" fill="#7c8420"/><rect x="502.25" y="345.5" width="14.3" height="0.5" fill="#f7c38c"/><rect x="523.65" y="348.5" width="14.3" height="1.4" fill="#3c78b6"/><rect x="523.65" y="348" width="14.3" height="0.5" fill="#f2934a"/><rect x="523.65" y="347.7" width="14.3" height="0.3" fill="#c7628a"/><rect x="523.65" y="347.4" width="14.3" height="0.3" fill="#c79d98"/><rect x="523.65" y="346.5" width="14.3" height="0.9" fill="#7c8420"/><rect x="523.65" y="346" width="14.3" height="0.5" fill="#f7c38c"/><rect x="334.6" y="343.45" width="7.2" height="1.3" fill="#000"/><rect x="334.6" y="335.95" width="7.2" height="1.3" fill="#000"/><rect x="334.6" y="333.15" width="7.2" height="1.3" fill="#000"/><rect x="334.6" y="330.15" width="7.2" height="1.3" fill="#000"/><rect x="334.6" y="327.65" width="7.2" height="1.3" fill="#000"/><rect x="334.6" y="325.15" width="7.2" height="1.3" fill="#000"/><rect x="356" y="303.25" width="7.2" height="1.1" fill="#000"/><rect x="356" y="307.45" width="7.2" height="1.1" fill="#000"/><rect x="359.1" y="303.8" width="1" height="4.2" fill="#000"/><rect x="356" y="254.65" width="7.2" height="1.1" fill="#000"/><rect x="356" y="257.65" width="7.2" height="1.1" fill="#000"/><rect x="359.1" y="255.2" width="1" height="3" fill="#000"/><rect x="356" y="254.15" width="7.2" height="1.3" fill="#000"/><rect x="356" y="251.95" width="7.2" height="1.3" fill="#000"/><rect x="356" y="250.35" width="7.2" height="1.3" fill="#000"/><rect x="356" y="249.15" width="7.2" height="1.3" fill="#000"/><rect x="377.4" y="311.05" width="7.2" height="1.1" fill="#000"/><rect x="377.4" y="314.05" width="7.2" height="1.1" fill="#000"/><rect x="380.5" y="311.6" width="1" height="3" fill="#000"/><rect x="377.4" y="293.65" width="7.2" height="1.3" fill="#000"/><rect x="377.4" y="291.45" width="7.2" height="1.3" fill="#000"/><rect x="377.4" y="289.55" width="7.2" height="1.3" fill="#000"/><rect x="377.4" y="288.05" width="7.2" height="1.3" fill="#000"/><rect x="398.8" y="330.65" width="7.2" height="1.3" fill="#000"/><rect x="398.8" y="315.65" width="7.2" height="1.3" fill="#000"/><rect x="398.8" y="313.45" width="7.2" height="1.3" fill="#000"/><rect x="398.8" y="311.15" width="7.2" height="1.3" fill="#000"/><rect x="420.2" y="338.95" width="7.2" height="1.3" fill="#000"/><rect x="420.2" y="329.65" width="7.2" height="1.3" fill="#000"/><rect x="420.2" y="327.45" width="7.2" height="1.3" fill="#000"/><rect x="420.2" y="325.85" width="7.2" height="1.3" fill="#000"/><rect x="441.6" y="342.95" width="7.2" height="1.3" fill="#000"/><rect x="441.6" y="341.35" width="7.2" height="1.3" fill="#000"/><rect x="441.6" y="340.35" width="7.2" height="1.3" fill="#000"/><rect x="441.6" y="339.85" width="7.2" height="1.3" fill="#000"/><rect x="441.6" y="338.65" width="7.2" height="1.3" fill="#000"/><rect x="441.6" y="338.05" width="7.2" height="1.3" fill="#000"/><rect x="463" y="345.45" width="7.2" height="1.3" fill="#000"/><rect x="484.4" y="346.85" width="7.2" height="1.3" fill="#000"/><rect x="484.4" y="345.45" width="7.2" height="1.3" fill="#000"/><rect x="484.4" y="345.05" width="7.2" height="1.3" fill="#000"/><rect x="484.4" y="344.65" width="7.2" height="1.3" fill="#000"/><rect x="484.4" y="344.05" width="7.2" height="1.3" fill="#000"/><rect x="484.4" y="343.55" width="7.2" height="1.3" fill="#000"/><rect x="505.8" y="347.85" width="7.2" height="1.3" fill="#000"/><rect x="505.8" y="346.85" width="7.2" height="1.3" fill="#000"/><rect x="527.2" y="347.85" width="7.2" height="1.3" fill="#000"/><rect x="324" y="203" width="220.8" height="146.9" fill="none" stroke="#000" stroke-width="1.6"/><rect x="324" y="305.94" width="6" height="1.5" fill="#000"/><text x="322" y="310.09" text-anchor="end" font-size="9.4" fill="#222" stroke="#222" stroke-width="0.22">500</text><rect x="324" y="262.74" width="6" height="1.5" fill="#000"/><text x="322" y="266.89" text-anchor="end" font-size="9.4" fill="#222" stroke="#222" stroke-width="0.22">1000</text><rect x="324" y="219.53" width="6" height="1.5" fill="#000"/><text x="322" y="223.68" text-anchor="end" font-size="9.4" fill="#222" stroke="#222" stroke-width="0.22">1500</text><text x="322" y="353.3" text-anchor="end" font-size="9.4" fill="#222" stroke="#222" stroke-width="0.22">0</text><text x="338.2" y="364.1" text-anchor="middle" font-size="9.2" fill="#222" stroke="#222" stroke-width="0.22">0</text><text x="359.6" y="364.1" text-anchor="middle" font-size="9.2" fill="#222" stroke="#222" stroke-width="0.22">2</text><text x="381" y="364.1" text-anchor="middle" font-size="9.2" fill="#222" stroke="#222" stroke-width="0.22">4</text><text x="402.4" y="364.1" text-anchor="middle" font-size="9.2" fill="#222" stroke="#222" stroke-width="0.22">6</text><text x="423.8" y="364.1" text-anchor="middle" font-size="9.2" fill="#222" stroke="#222" stroke-width="0.22">10</text><text x="445.2" y="364.1" text-anchor="middle" font-size="9.2" fill="#222" stroke="#222" stroke-width="0.22">16</text><text x="466.6" y="364.1" text-anchor="middle" font-size="9.2" fill="#222" stroke="#222" stroke-width="0.22">20</text><text x="488" y="364.1" text-anchor="middle" font-size="9.2" fill="#222" stroke="#222" stroke-width="0.22">24</text><text x="509.4" y="364.1" text-anchor="middle" font-size="9.2" fill="#222" stroke="#222" stroke-width="0.22">28</text><text x="530.8" y="364.1" text-anchor="middle" font-size="9.2" fill="#222" stroke="#222" stroke-width="0.22">32</text><text x="435" y="378.9" text-anchor="middle" font-size="9.2" textLength="34.4" lengthAdjust="spacingAndGlyphs" fill="#222" stroke="#222" stroke-width="0.22">Time (d)</text><text transform="translate(296.7,313.7) rotate(-90)" x="0" y="0" font-size="9.6" textLength="73.7" lengthAdjust="spacingAndGlyphs" fill="#222" stroke="#222" stroke-width="0.22">VFAs (mgCOD/L)</text><text x="327" y="215.5" font-size="9.5" textLength="15" lengthAdjust="spacingAndGlyphs" fill="#222" stroke="#222" stroke-width="0.22">PS3</text><rect x="451.9" y="219" width="16" height="5" fill="#3c78b6"/><text x="476.9" y="224.7" font-size="9" textLength="38" lengthAdjust="spacingAndGlyphs" fill="#222" stroke="#222" stroke-width="0.22">Acetic acid</text><rect x="451.9" y="231.8" width="16" height="5" fill="#f2934a"/><text x="476.9" y="237.5" font-size="9" textLength="50.7" lengthAdjust="spacingAndGlyphs" fill="#222" stroke="#222" stroke-width="0.22">Propionic acid</text><rect x="451.9" y="244.6" width="16" height="5" fill="#c7628a"/><text x="476.9" y="250.3" font-size="9" textLength="52.6" lengthAdjust="spacingAndGlyphs" fill="#222" stroke="#222" stroke-width="0.22">Isobutyric acid</text><rect x="451.9" y="257.4" width="16" height="5" fill="#c79d98"/><text x="476.9" y="263.1" font-size="9" textLength="51.4" lengthAdjust="spacingAndGlyphs" fill="#222" stroke="#222" stroke-width="0.22">N-butyric acid</text><rect x="451.9" y="270.2" width="16" height="5" fill="#7c8420"/><text x="476.9" y="275.9" font-size="9" textLength="50" lengthAdjust="spacingAndGlyphs" fill="#222" stroke="#222" stroke-width="0.22">Isovaleric acid</text><rect x="451.9" y="283" width="16" height="5" fill="#f7c38c"/><text x="476.9" y="288.7" font-size="9" textLength="49.2" lengthAdjust="spacingAndGlyphs" fill="#222" stroke="#222" stroke-width="0.22">N-valeric acid</text></g>
<g font-family='"Liberation Serif", serif'><rect x="44.05" y="539.1" width="14.3" height="5.5" fill="#3c78b6"/><rect x="44.05" y="534.1" width="14.3" height="5" fill="#f2934a"/><rect x="44.05" y="531.6" width="14.3" height="2.5" fill="#c7628a"/><rect x="44.05" y="530" width="14.3" height="1.6" fill="#c79d98"/><rect x="44.05" y="527.5" width="14.3" height="2.5" fill="#7c8420"/><rect x="44.05" y="525" width="14.3" height="2.5" fill="#f7c38c"/><rect x="65.45" y="510.9" width="14.3" height="33.7" fill="#3c78b6"/><rect x="65.45" y="474.5" width="14.3" height="36.4" fill="#f2934a"/><rect x="65.45" y="471.8" width="14.3" height="2.7" fill="#c7628a"/><rect x="65.45" y="470.2" width="14.3" height="1.6" fill="#c79d98"/><rect x="65.45" y="464.4" width="14.3" height="5.8" fill="#7c8420"/><rect x="65.45" y="462.8" width="14.3" height="1.6" fill="#f7c38c"/><rect x="86.85" y="526.8" width="14.3" height="17.8" fill="#3c78b6"/><rect x="86.85" y="513.3" width="14.3" height="13.5" fill="#f2934a"/><rect x="86.85" y="504.7" width="14.3" height="8.6" fill="#c7628a"/><rect x="86.85" y="497.6" width="14.3" height="7.1" fill="#c79d98"/><rect x="86.85" y="490.4" width="14.3" height="7.2" fill="#7c8420"/><rect x="86.85" y="486.5" width="14.3" height="3.9" fill="#f7c38c"/><rect x="108.25" y="530.4" width="14.3" height="14.2" fill="#3c78b6"/><rect x="108.25" y="514.9" width="14.3" height="15.5" fill="#f2934a"/><rect x="108.25" y="514.2" width="14.3" height="0.7" fill="#c7628a"/><rect x="108.25" y="511.8" width="14.3" height="2.4" fill="#c79d98"/><rect x="108.25" y="506.5" width="14.3" height="5.3" fill="#7c8420"/><rect x="108.25" y="504.1" width="14.3" height="2.4" fill="#f7c38c"/><rect x="129.65" y="534.6" width="14.3" height="10" fill="#3c78b6"/><rect x="129.65" y="527" width="14.3" height="7.6" fill="#f2934a"/><rect x="129.65" y="526" width="14.3" height="1" fill="#c7628a"/><rect x="129.65" y="522.9" width="14.3" height="3.1" fill="#c79d98"/><rect x="129.65" y="519.7" width="14.3" height="3.2" fill="#7c8420"/><rect x="129.65" y="515.9" width="14.3" height="3.8" fill="#f7c38c"/><rect x="151.05" y="540.5" width="14.3" height="4.1" fill="#3c78b6"/><rect x="151.05" y="535" width="14.3" height="5.5" fill="#f2934a"/><rect x="151.05" y="533.7" width="14.3" height="1.3" fill="#c7628a"/><rect x="151.05" y="531.8" width="14.3" height="1.9" fill="#c79d98"/><rect x="151.05" y="529.9" width="14.3" height="1.9" fill="#7c8420"/><rect x="151.05" y="528.6" width="14.3" height="1.3" fill="#f7c38c"/><rect x="172.45" y="542" width="14.3" height="2.6" fill="#3c78b6"/><rect x="172.45" y="540.5" width="14.3" height="1.5" fill="#f2934a"/><rect x="172.45" y="534.1" width="14.3" height="6.4" fill="#c7628a"/><rect x="172.45" y="533.5" width="14.3" height="0.6" fill="#c79d98"/><rect x="172.45" y="530.5" width="14.3" height="3" fill="#7c8420"/><rect x="172.45" y="529.9" width="14.3" height="0.6" fill="#f7c38c"/><rect x="193.85" y="542" width="14.3" height="2.6" fill="#3c78b6"/><rect x="193.85" y="536.6" width="14.3" height="5.4" fill="#f2934a"/><rect x="193.85" y="535.8" width="14.3" height="0.8" fill="#c7628a"/><rect x="193.85" y="535" width="14.3" height="0.8" fill="#c79d98"/><rect x="193.85" y="534" width="14.3" height="1" fill="#7c8420"/><rect x="193.85" y="533.2" width="14.3" height="0.8" fill="#f7c38c"/><rect x="215.25" y="540.7" width="14.3" height="3.9" fill="#3c78b6"/><rect x="215.25" y="537" width="14.3" height="3.7" fill="#f2934a"/><rect x="215.25" y="536.6" width="14.3" height="0.4" fill="#c7628a"/><rect x="215.25" y="536.2" width="14.3" height="0.4" fill="#c79d98"/><rect x="215.25" y="535.7" width="14.3" height="0.5" fill="#7c8420"/><rect x="215.25" y="535.2" width="14.3" height="0.5" fill="#f7c38c"/><rect x="236.65" y="544.1" width="14.3" height="0.5" fill="#3c78b6"/><rect x="236.65" y="543.4" width="14.3" height="0.7" fill="#f2934a"/><rect x="236.65" y="543" width="14.3" height="0.4" fill="#c7628a"/><rect x="236.65" y="542.6" width="14.3" height="0.4" fill="#c79d98"/><rect x="236.65" y="542" width="14.3" height="0.6" fill="#7c8420"/><rect x="236.65" y="541.4" width="14.3" height="0.6" fill="#f7c38c"/><rect x="47.6" y="538.45" width="7.2" height="1.3" fill="#000"/><rect x="47.6" y="533.45" width="7.2" height="1.3" fill="#000"/><rect x="47.6" y="530.95" width="7.2" height="1.3" fill="#000"/><rect x="47.6" y="529.35" width="7.2" height="1.3" fill="#000"/><rect x="47.6" y="526.85" width="7.2" height="1.3" fill="#000"/><rect x="47.6" y="524.35" width="7.2" height="1.3" fill="#000"/><rect x="69" y="509.05" width="7.2" height="1.1" fill="#000"/><rect x="69" y="511.65" width="7.2" height="1.1" fill="#000"/><rect x="72.1" y="509.6" width="1" height="2.6" fill="#000"/><rect x="69" y="472.35" width="7.2" height="1.1" fill="#000"/><rect x="69" y="475.55" width="7.2" height="1.1" fill="#000"/><rect x="72.1" y="472.9" width="1" height="3.2" fill="#000"/><rect x="69" y="471.15" width="7.2" height="1.3" fill="#000"/><rect x="69" y="469.55" width="7.2" height="1.3" fill="#000"/><rect x="69" y="463.75" width="7.2" height="1.3" fill="#000"/><rect x="69" y="462.15" width="7.2" height="1.3" fill="#000"/><rect x="90.4" y="526.15" width="7.2" height="1.3" fill="#000"/><rect x="90.4" y="512.65" width="7.2" height="1.3" fill="#000"/><rect x="90.4" y="504.05" width="7.2" height="1.3" fill="#000"/><rect x="90.4" y="496.95" width="7.2" height="1.3" fill="#000"/><rect x="90.4" y="489.75" width="7.2" height="1.3" fill="#000"/><rect x="90.4" y="485.85" width="7.2" height="1.3" fill="#000"/><rect x="111.8" y="529.75" width="7.2" height="1.3" fill="#000"/><rect x="111.8" y="514.25" width="7.2" height="1.3" fill="#000"/><rect x="111.8" y="511.15" width="7.2" height="1.3" fill="#000"/><rect x="111.8" y="505.85" width="7.2" height="1.3" fill="#000"/><rect x="111.8" y="503.45" width="7.2" height="1.3" fill="#000"/><rect x="133.2" y="533.95" width="7.2" height="1.3" fill="#000"/><rect x="133.2" y="526.35" width="7.2" height="1.3" fill="#000"/><rect x="133.2" y="525.35" width="7.2" height="1.3" fill="#000"/><rect x="133.2" y="522.25" width="7.2" height="1.3" fill="#000"/><rect x="133.2" y="519.05" width="7.2" height="1.3" fill="#000"/><rect x="133.2" y="515.25" width="7.2" height="1.3" fill="#000"/><rect x="154.6" y="539.85" width="7.2" height="1.3" fill="#000"/><rect x="154.6" y="534.35" width="7.2" height="1.3" fill="#000"/><rect x="154.6" y="533.05" width="7.2" height="1.3" fill="#000"/><rect x="154.6" y="531.15" width="7.2" height="1.3" fill="#000"/><rect x="154.6" y="529.25" width="7.2" height="1.3" fill="#000"/><rect x="154.6" y="527.95" width="7.2" height="1.3" fill="#000"/><rect x="176" y="541.35" width="7.2" height="1.3" fill="#000"/><rect x="176" y="539.85" width="7.2" height="1.3" fill="#000"/><rect x="176" y="533.45" width="7.2" height="1.3" fill="#000"/><rect x="176" y="529.85" width="7.2" height="1.3" fill="#000"/><rect x="197.4" y="541.35" width="7.2" height="1.3" fill="#000"/><rect x="197.4" y="535.95" width="7.2" height="1.3" fill="#000"/><rect x="197.4" y="535.15" width="7.2" height="1.3" fill="#000"/><rect x="197.4" y="534.35" width="7.2" height="1.3" fill="#000"/><rect x="197.4" y="533.35" width="7.2" height="1.3" fill="#000"/><rect x="197.4" y="532.55" width="7.2" height="1.3" fill="#000"/><rect x="218.8" y="540.05" width="7.2" height="1.3" fill="#000"/><rect x="218.8" y="536.35" width="7.2" height="1.3" fill="#000"/><rect x="240.2" y="543.45" width="7.2" height="1.3" fill="#000"/><rect x="240.2" y="542.75" width="7.2" height="1.3" fill="#000"/><rect x="240.2" y="542.35" width="7.2" height="1.3" fill="#000"/><rect x="240.2" y="541.95" width="7.2" height="1.3" fill="#000"/><rect x="240.2" y="541.35" width="7.2" height="1.3" fill="#000"/><rect x="240.2" y="540.75" width="7.2" height="1.3" fill="#000"/><rect x="37" y="397.7" width="220.5" height="146.9" fill="none" stroke="#000" stroke-width="1.6"/><rect x="37" y="500.64" width="6" height="1.5" fill="#000"/><text x="35" y="504.79" text-anchor="end" font-size="9.4" fill="#222" stroke="#222" stroke-width="0.22">500</text><rect x="37" y="457.44" width="6" height="1.5" fill="#000"/><text x="35" y="461.59" text-anchor="end" font-size="9.4" fill="#222" stroke="#222" stroke-width="0.22">1000</text><rect x="37" y="414.23" width="6" height="1.5" fill="#000"/><text x="35" y="418.38" text-anchor="end" font-size="9.4" fill="#222" stroke="#222" stroke-width="0.22">1500</text><text x="35" y="548" text-anchor="end" font-size="9.4" fill="#222" stroke="#222" stroke-width="0.22">0</text><text x="51.2" y="558.8" text-anchor="middle" font-size="9.2" fill="#222" stroke="#222" stroke-width="0.22">0</text><text x="72.6" y="558.8" text-anchor="middle" font-size="9.2" fill="#222" stroke="#222" stroke-width="0.22">2</text><text x="94" y="558.8" text-anchor="middle" font-size="9.2" fill="#222" stroke="#222" stroke-width="0.22">4</text><text x="115.4" y="558.8" text-anchor="middle" font-size="9.2" fill="#222" stroke="#222" stroke-width="0.22">6</text><text x="136.8" y="558.8" text-anchor="middle" font-size="9.2" fill="#222" stroke="#222" stroke-width="0.22">10</text><text x="158.2" y="558.8" text-anchor="middle" font-size="9.2" fill="#222" stroke="#222" stroke-width="0.22">16</text><text x="179.6" y="558.8" text-anchor="middle" font-size="9.2" fill="#222" stroke="#222" stroke-width="0.22">20</text><text x="201" y="558.8" text-anchor="middle" font-size="9.2" fill="#222" stroke="#222" stroke-width="0.22">24</text><text x="222.4" y="558.8" text-anchor="middle" font-size="9.2" fill="#222" stroke="#222" stroke-width="0.22">28</text><text x="243.8" y="558.8" text-anchor="middle" font-size="9.2" fill="#222" stroke="#222" stroke-width="0.22">32</text><text x="147.85" y="573.6" text-anchor="middle" font-size="9.2" textLength="34.4" lengthAdjust="spacingAndGlyphs" fill="#222" stroke="#222" stroke-width="0.22">Time (d)</text><text transform="translate(10.1,508.4) rotate(-90)" x="0" y="0" font-size="9.6" textLength="73.7" lengthAdjust="spacingAndGlyphs" fill="#222" stroke="#222" stroke-width="0.22">VFAs (mgCOD/L)</text><text x="42.7" y="409.5" font-size="9.5" textLength="14.5" lengthAdjust="spacingAndGlyphs" fill="#222" stroke="#222" stroke-width="0.22">PS4</text><rect x="165.1" y="408.85" width="16" height="5" fill="#3c78b6"/><text x="190.1" y="414.55" font-size="9" textLength="38" lengthAdjust="spacingAndGlyphs" fill="#222" stroke="#222" stroke-width="0.22">Acetic acid</text><rect x="165.1" y="421.65" width="16" height="5" fill="#f2934a"/><text x="190.1" y="427.35" font-size="9" textLength="50.7" lengthAdjust="spacingAndGlyphs" fill="#222" stroke="#222" stroke-width="0.22">Propionic acid</text><rect x="165.1" y="434.45" width="16" height="5" fill="#c7628a"/><text x="190.1" y="440.15" font-size="9" textLength="52.6" lengthAdjust="spacingAndGlyphs" fill="#222" stroke="#222" stroke-width="0.22">Isobutyric acid</text><rect x="165.1" y="447.25" width="16" height="5" fill="#c79d98"/><text x="190.1" y="452.95" font-size="9" textLength="51.4" lengthAdjust="spacingAndGlyphs" fill="#222" stroke="#222" stroke-width="0.22">N-butyric acid</text><rect x="165.1" y="460.05" width="16" height="5" fill="#7c8420"/><text x="190.1" y="465.75" font-size="9" textLength="50" lengthAdjust="spacingAndGlyphs" fill="#222" stroke="#222" stroke-width="0.22">Isovaleric acid</text><rect x="165.1" y="472.85" width="16" height="5" fill="#f7c38c"/><text x="190.1" y="478.55" font-size="9" textLength="49.2" lengthAdjust="spacingAndGlyphs" fill="#222" stroke="#222" stroke-width="0.22">N-valeric acid</text></g>
<g font-family='"Liberation Serif", serif'><rect x="331.05" y="539.7" width="14.3" height="4.7" fill="#3c78b6"/><rect x="331.05" y="534.7" width="14.3" height="5" fill="#f2934a"/><rect x="331.05" y="528" width="14.3" height="6.7" fill="#c7628a"/><rect x="331.05" y="527.6" width="14.3" height="0.4" fill="#c79d98"/><rect x="331.05" y="526" width="14.3" height="1.6" fill="#7c8420"/><rect x="331.05" y="525.5" width="14.3" height="0.5" fill="#f7c38c"/><rect x="352.45" y="489.8" width="14.3" height="54.6" fill="#3c78b6"/><rect x="352.45" y="452.7" width="14.3" height="37.1" fill="#f2934a"/><rect x="352.45" y="448.1" width="14.3" height="4.6" fill="#c7628a"/><rect x="352.45" y="445.4" width="14.3" height="2.7" fill="#c79d98"/><rect x="352.45" y="443.7" width="14.3" height="1.7" fill="#7c8420"/><rect x="352.45" y="442.6" width="14.3" height="1.1" fill="#f7c38c"/><rect x="373.85" y="517.8" width="14.3" height="26.6" fill="#3c78b6"/><rect x="373.85" y="502.2" width="14.3" height="15.6" fill="#f2934a"/><rect x="373.85" y="500" width="14.3" height="2.2" fill="#c7628a"/><rect x="373.85" y="495.2" width="14.3" height="4.8" fill="#c79d98"/><rect x="373.85" y="489.2" width="14.3" height="6" fill="#7c8420"/><rect x="373.85" y="484.7" width="14.3" height="4.5" fill="#f7c38c"/><rect x="395.25" y="525.6" width="14.3" height="18.8" fill="#3c78b6"/><rect x="395.25" y="497.4" width="14.3" height="28.2" fill="#f2934a"/><rect x="395.25" y="493.2" width="14.3" height="4.2" fill="#c7628a"/><rect x="395.25" y="492.6" width="14.3" height="0.6" fill="#c79d98"/><rect x="395.25" y="488" width="14.3" height="4.6" fill="#7c8420"/><rect x="395.25" y="486.2" width="14.3" height="1.8" fill="#f7c38c"/><rect x="416.65" y="532" width="14.3" height="12.4" fill="#3c78b6"/><rect x="416.65" y="521.8" width="14.3" height="10.2" fill="#f2934a"/><rect x="416.65" y="519.6" width="14.3" height="2.2" fill="#c7628a"/><rect x="416.65" y="519.3" width="14.3" height="0.3" fill="#c79d98"/><rect x="416.65" y="517.7" width="14.3" height="1.6" fill="#7c8420"/><rect x="416.65" y="517.1" width="14.3" height="0.6" fill="#f7c38c"/><rect x="438.05" y="537.1" width="14.3" height="7.3" fill="#3c78b6"/><rect x="438.05" y="535.5" width="14.3" height="1.6" fill="#f2934a"/><rect x="438.05" y="534.6" width="14.3" height="0.9" fill="#c7628a"/><rect x="438.05" y="534.2" width="14.3" height="0.4" fill="#c79d98"/><rect x="438.05" y="533.5" width="14.3" height="0.7" fill="#7c8420"/><rect x="438.05" y="533" width="14.3" height="0.5" fill="#f7c38c"/><rect x="459.45" y="540.6" width="14.3" height="3.8" fill="#3c78b6"/><rect x="459.45" y="538.7" width="14.3" height="1.9" fill="#f2934a"/><rect x="459.45" y="537.5" width="14.3" height="1.2" fill="#c7628a"/><rect x="459.45" y="537.2" width="14.3" height="0.3" fill="#c79d98"/><rect x="459.45" y="536" width="14.3" height="1.2" fill="#7c8420"/><rect x="459.45" y="535.3" width="14.3" height="0.7" fill="#f7c38c"/><rect x="480.85" y="542" width="14.3" height="2.4" fill="#3c78b6"/><rect x="480.85" y="540.2" width="14.3" height="1.8" fill="#f2934a"/><rect x="480.85" y="539.6" width="14.3" height="0.6" fill="#c7628a"/><rect x="480.85" y="539" width="14.3" height="0.6" fill="#c79d98"/><rect x="480.85" y="537.5" width="14.3" height="1.5" fill="#7c8420"/><rect x="480.85" y="536.8" width="14.3" height="0.7" fill="#f7c38c"/><rect x="502.25" y="542.3" width="14.3" height="2.1" fill="#3c78b6"/><rect x="502.25" y="541.2" width="14.3" height="1.1" fill="#f2934a"/><rect x="502.25" y="540.8" width="14.3" height="0.4" fill="#c7628a"/><rect x="502.25" y="540.4" width="14.3" height="0.4" fill="#c79d98"/><rect x="502.25" y="539.5" width="14.3" height="0.9" fill="#7c8420"/><rect x="502.25" y="538.9" width="14.3" height="0.6" fill="#f7c38c"/><rect x="523.65" y="543" width="14.3" height="1.4" fill="#3c78b6"/><rect x="523.65" y="542" width="14.3" height="1" fill="#f2934a"/><rect x="523.65" y="541.6" width="14.3" height="0.4" fill="#c7628a"/><rect x="523.65" y="541.2" width="14.3" height="0.4" fill="#c79d98"/><rect x="523.65" y="540.5" width="14.3" height="0.7" fill="#7c8420"/><rect x="523.65" y="540" width="14.3" height="0.5" fill="#f7c38c"/><rect x="334.6" y="539.05" width="7.2" height="1.3" fill="#000"/><rect x="334.6" y="534.05" width="7.2" height="1.3" fill="#000"/><rect x="334.6" y="527.35" width="7.2" height="1.3" fill="#000"/><rect x="334.6" y="526.95" width="7.2" height="1.3" fill="#000"/><rect x="334.6" y="525.35" width="7.2" height="1.3" fill="#000"/><rect x="334.6" y="524.85" width="7.2" height="1.3" fill="#000"/><rect x="356" y="487.95" width="7.2" height="1.1" fill="#000"/><rect x="356" y="490.55" width="7.2" height="1.1" fill="#000"/><rect x="359.1" y="488.5" width="1" height="2.6" fill="#000"/><rect x="356" y="450.55" width="7.2" height="1.1" fill="#000"/><rect x="356" y="453.75" width="7.2" height="1.1" fill="#000"/><rect x="359.1" y="451.1" width="1" height="3.2" fill="#000"/><rect x="356" y="447.45" width="7.2" height="1.3" fill="#000"/><rect x="356" y="444.75" width="7.2" height="1.3" fill="#000"/><rect x="356" y="443.05" width="7.2" height="1.3" fill="#000"/><rect x="356" y="441.95" width="7.2" height="1.3" fill="#000"/><rect x="377.4" y="517.15" width="7.2" height="1.3" fill="#000"/><rect x="377.4" y="501.55" width="7.2" height="1.3" fill="#000"/><rect x="377.4" y="499.35" width="7.2" height="1.3" fill="#000"/><rect x="377.4" y="494.55" width="7.2" height="1.3" fill="#000"/><rect x="377.4" y="488.55" width="7.2" height="1.3" fill="#000"/><rect x="377.4" y="484.05" width="7.2" height="1.3" fill="#000"/><rect x="398.8" y="524.95" width="7.2" height="1.3" fill="#000"/><rect x="398.8" y="496.75" width="7.2" height="1.3" fill="#000"/><rect x="398.8" y="492.55" width="7.2" height="1.3" fill="#000"/><rect x="398.8" y="487.35" width="7.2" height="1.3" fill="#000"/><rect x="398.8" y="485.55" width="7.2" height="1.3" fill="#000"/><rect x="420.2" y="531.35" width="7.2" height="1.3" fill="#000"/><rect x="420.2" y="521.15" width="7.2" height="1.3" fill="#000"/><rect x="420.2" y="518.95" width="7.2" height="1.3" fill="#000"/><rect x="420.2" y="517.05" width="7.2" height="1.3" fill="#000"/><rect x="441.6" y="536.45" width="7.2" height="1.3" fill="#000"/><rect x="441.6" y="534.85" width="7.2" height="1.3" fill="#000"/><rect x="463" y="539.95" width="7.2" height="1.3" fill="#000"/><rect x="463" y="538.05" width="7.2" height="1.3" fill="#000"/><rect x="463" y="536.85" width="7.2" height="1.3" fill="#000"/><rect x="463" y="535.35" width="7.2" height="1.3" fill="#000"/><rect x="484.4" y="541.35" width="7.2" height="1.3" fill="#000"/><rect x="484.4" y="539.55" width="7.2" height="1.3" fill="#000"/><rect x="484.4" y="538.95" width="7.2" height="1.3" fill="#000"/><rect x="484.4" y="538.35" width="7.2" height="1.3" fill="#000"/><rect x="484.4" y="536.85" width="7.2" height="1.3" fill="#000"/><rect x="484.4" y="536.15" width="7.2" height="1.3" fill="#000"/><rect x="505.8" y="541.65" width="7.2" height="1.3" fill="#000"/><rect x="505.8" y="540.55" width="7.2" height="1.3" fill="#000"/><rect x="527.2" y="542.35" width="7.2" height="1.3" fill="#000"/><rect x="527.2" y="541.35" width="7.2" height="1.3" fill="#000"/><rect x="324" y="397.7" width="220.8" height="146.7" fill="none" stroke="#000" stroke-width="1.6"/><rect x="324" y="500.5" width="6" height="1.5" fill="#000"/><text x="322" y="504.65" text-anchor="end" font-size="9.4" fill="#222" stroke="#222" stroke-width="0.22">500</text><rect x="324" y="457.36" width="6" height="1.5" fill="#000"/><text x="322" y="461.51" text-anchor="end" font-size="9.4" fill="#222" stroke="#222" stroke-width="0.22">1000</text><rect x="324" y="414.21" width="6" height="1.5" fill="#000"/><text x="322" y="418.36" text-anchor="end" font-size="9.4" fill="#222" stroke="#222" stroke-width="0.22">1500</text><text x="322" y="547.8" text-anchor="end" font-size="9.4" fill="#222" stroke="#222" stroke-width="0.22">0</text><text x="338.2" y="558.6" text-anchor="middle" font-size="9.2" fill="#222" stroke="#222" stroke-width="0.22">0</text><text x="359.6" y="558.6" text-anchor="middle" font-size="9.2" fill="#222" stroke="#222" stroke-width="0.22">2</text><text x="381" y="558.6" text-anchor="middle" font-size="9.2" fill="#222" stroke="#222" stroke-width="0.22">4</text><text x="402.4" y="558.6" text-anchor="middle" font-size="9.2" fill="#222" stroke="#222" stroke-width="0.22">6</text><text x="423.8" y="558.6" text-anchor="middle" font-size="9.2" fill="#222" stroke="#222" stroke-width="0.22">10</text><text x="445.2" y="558.6" text-anchor="middle" font-size="9.2" fill="#222" stroke="#222" stroke-width="0.22">16</text><text x="466.6" y="558.6" text-anchor="middle" font-size="9.2" fill="#222" stroke="#222" stroke-width="0.22">20</text><text x="488" y="558.6" text-anchor="middle" font-size="9.2" fill="#222" stroke="#222" stroke-width="0.22">24</text><text x="509.4" y="558.6" text-anchor="middle" font-size="9.2" fill="#222" stroke="#222" stroke-width="0.22">28</text><text x="530.8" y="558.6" text-anchor="middle" font-size="9.2" fill="#222" stroke="#222" stroke-width="0.22">32</text><text x="435" y="573.4" text-anchor="middle" font-size="9.2" textLength="34.4" lengthAdjust="spacingAndGlyphs" fill="#222" stroke="#222" stroke-width="0.22">Time (d)</text><text transform="translate(296.7,508.4) rotate(-90)" x="0" y="0" font-size="9.6" textLength="73.7" lengthAdjust="spacingAndGlyphs" fill="#222" stroke="#222" stroke-width="0.22">VFAs (mgCOD/L)</text><text x="327.9" y="408.8" font-size="9.5" textLength="15" lengthAdjust="spacingAndGlyphs" fill="#222" stroke="#222" stroke-width="0.22">PS5</text><rect x="451.9" y="411.95" width="16" height="5" fill="#3c78b6"/><text x="476.9" y="417.65" font-size="9" textLength="38" lengthAdjust="spacingAndGlyphs" fill="#222" stroke="#222" stroke-width="0.22">Acetic acid</text><rect x="451.9" y="424.75" width="16" height="5" fill="#f2934a"/><text x="476.9" y="430.45" font-size="9" textLength="50.7" lengthAdjust="spacingAndGlyphs" fill="#222" stroke="#222" stroke-width="0.22">Propionic acid</text><rect x="451.9" y="437.55" width="16" height="5" fill="#c7628a"/><text x="476.9" y="443.25" font-size="9" textLength="52.6" lengthAdjust="spacingAndGlyphs" fill="#222" stroke="#222" stroke-width="0.22">Isobutyric acid</text><rect x="451.9" y="450.35" width="16" height="5" fill="#c79d98"/><text x="476.9" y="456.05" font-size="9" textLength="51.4" lengthAdjust="spacingAndGlyphs" fill="#222" stroke="#222" stroke-width="0.22">N-butyric acid</text><rect x="451.9" y="463.15" width="16" height="5" fill="#7c8420"/><text x="476.9" y="468.85" font-size="9" textLength="50" lengthAdjust="spacingAndGlyphs" fill="#222" stroke="#222" stroke-width="0.22">Isovaleric acid</text><rect x="451.9" y="475.95" width="16" height="5" fill="#f7c38c"/><text x="476.9" y="481.65" font-size="9" textLength="49.2" lengthAdjust="spacingAndGlyphs" fill="#222" stroke="#222" stroke-width="0.22">N-valeric acid</text></g>
</svg></body></html>
